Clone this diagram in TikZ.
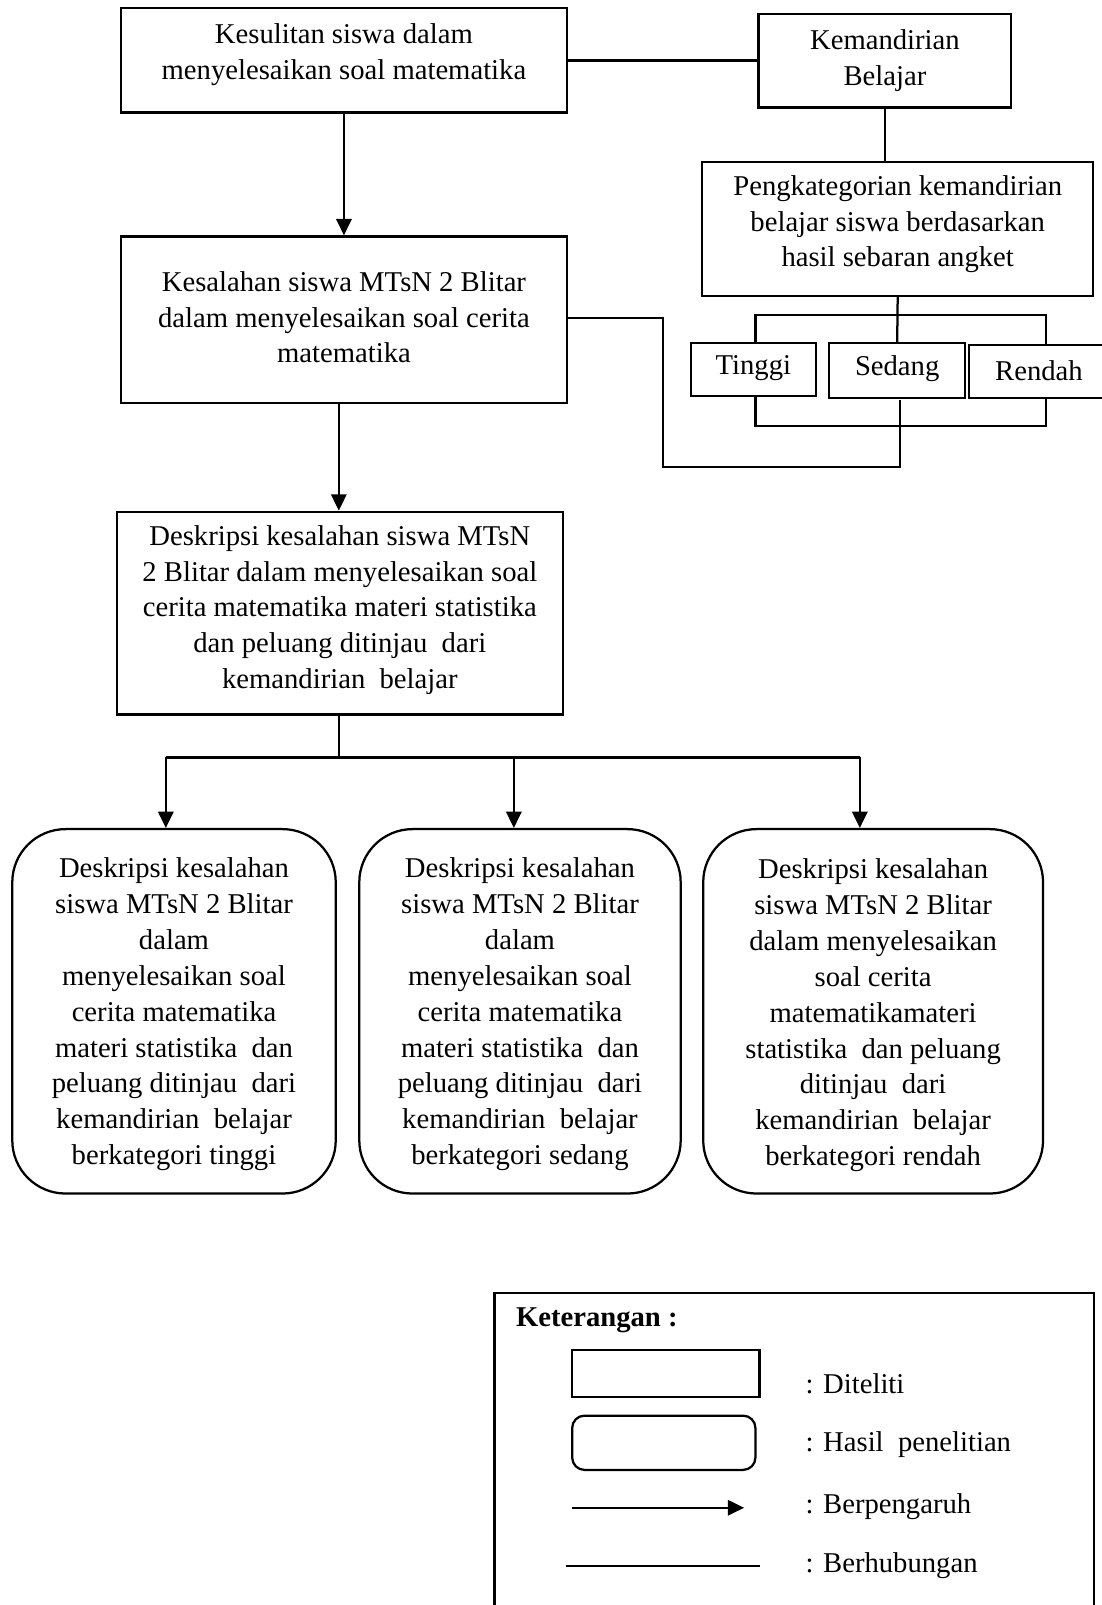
\documentclass[tikz,border=0pt]{standalone}
\usepackage{fontspec}
\setmainfont{Liberation Serif}
\usetikzlibrary{arrows.meta}
\begin{document}
\begin{tikzpicture}[x=1pt,y=-1pt, line width=2.2pt,
  box/.style={draw, rectangle, inner sep=0pt},
  rbox/.style={draw, rectangle, rounded corners=52pt, inner sep=0pt},
  txt/.style={align=center, inner sep=0pt, font=\fontsize{28}{35}\selectfont},
  ltxt/.style={anchor=west, inner sep=0pt, font=\fontsize{28}{35}\selectfont},
  arr/.style={-{Triangle[length=16pt,width=15pt]}}
]
\useasboundingbox (0,0) rectangle (1076,1568);
\fill[white] (0,0) rectangle (1076,1568);

% top left boxes
\node[box, minimum width=436pt, minimum height=102pt] (b1) at (336,59) {};
\node[txt] (b1t) at (336,53) {Kesulitan siswa dalam\\menyelesaikan soal matematika};

\node[box, minimum width=436pt, minimum height=163pt] (b2) at (336,312.5) {};
\node[txt] (b2t) at (336,310) {Kesalahan siswa MTsN 2 Blitar\\dalam menyelesaikan soal cerita\\matematika};

\node[box, minimum width=436pt, minimum height=198pt] (b3) at (332,599) {};
\node[txt] (b3t) at (332,596) {Deskripsi kesalahan siswa MTsN\\2 Blitar dalam menyelesaikan soal\\cerita matematika materi statistika\\dan peluang ditinjau\ \ dari\\kemandirian\ \ belajar};

% right boxes
\node[box, minimum width=247pt, minimum height=91pt] (kem) at (864.5,59.5) {};
\node[txt] (kemt) at (864.5,59) {Kemandirian\\Belajar};

\node[box, minimum width=382pt, minimum height=131pt] (peng) at (877,223.5) {};
\node[txt] (pengt) at (877,219) {Pengkategorian kemandirian\\belajar siswa berdasarkan\\hasil sebaran angket};

\node[box, minimum width=122pt, minimum height=52pt] (ting) at (736,361) {};
\node[txt] (tingt) at (736,360) {Tinggi};
\node[box, minimum width=133pt, minimum height=54pt] (sed) at (876.5,362) {};
\node[txt] (sedt) at (876.5,360) {Sedang};
\node[box, minimum width=150pt, minimum height=52pt] (ren) at (1022,363) {};
\node[txt] (rent) at (1015,362) {Rendah};

% connectors top
\draw (b1.east) -- (b1.east -| kem.west);
\draw (kem.south) -- (kem.south |- peng.north);
\draw (peng.south) -- (sed.north);
\coordinate (tt) at (738,308);
\coordinate (rt) at (1022,308);
\draw (tt |- ting.north) -- (tt) -- (rt) -- (rt |- ren.north);
\coordinate (tb) at (738,416);
\coordinate (rb) at (1022,416);
\draw (tb |- ting.south) -- (tb) -- (rb) -- (rb |- ren.south);
\coordinate (sb) at (879,391);
\coordinate (s1) at (879,456);
\coordinate (s2) at (648,456);
\coordinate (s3) at (648,311);
\draw (sb) -- (s1) -- (s2) -- (s3) -- (s3 -| b2.east);

\draw[arr] (b1.south) -- (b2.north);
\coordinate (a2) at (331,394);
\draw[arr] (a2) -- (a2 |- b3.north);

% bottom distribution
\coordinate (d0) at (331,698);
\coordinate (dm) at (331,740);
\coordinate (d1) at (162,740);
\coordinate (d2) at (502,740);
\coordinate (d3) at (840,740);
\draw (d0) -- (dm);
\draw (d1) -- (d3);

\node[rbox, minimum width=316pt, minimum height=356pt] (r1) at (170,988) {};
\node[txt] (r1t) at (170,991) {Deskripsi kesalahan\\siswa MTsN 2 Blitar\\dalam\\menyelesaikan soal\\cerita matematika\\materi statistika\ \ dan\\peluang ditinjau\ \ dari\\kemandirian\ \ belajar\\berkategori tinggi};

\node[rbox, minimum width=314pt, minimum height=356pt] (r2) at (508,988) {};
\node[txt] (r2t) at (508,991) {Deskripsi kesalahan\\siswa MTsN 2 Blitar\\dalam\\menyelesaikan soal\\cerita matematika\\materi statistika\ \ dan\\peluang ditinjau\ \ dari\\kemandirian\ \ belajar\\berkategori sedang};

\node[rbox, minimum width=332pt, minimum height=356pt] (r3) at (853,988) {};
\node[txt] (r3t) at (853,992) {Deskripsi kesalahan\\siswa MTsN 2 Blitar\\dalam menyelesaikan\\soal cerita\\matematikamateri\\statistika\ \ dan peluang\\ditinjau\ \ dari\\kemandirian\ \ belajar\\berkategori rendah};

\draw[arr] (d1) -- (d1 |- r1.north);
\draw[arr] (d2) -- (d2 |- r2.north);
\draw[arr] (d3) -- (d3 |- r3.north);

% legend
\node[box, minimum width=586pt, minimum height=330pt] (leg) at (776,1428) {};
\node[ltxt, font=\fontsize{28}{35}\selectfont\bfseries] (legt) at (503,1290) {Keterangan :};
\node[box, minimum width=183pt, minimum height=46pt] (l1) at (650.5,1342) {};
\node[ltxt] (l1t) at (786,1352) {: Diteliti};
\node[draw, rectangle, rounded corners=12pt, inner sep=0pt, minimum width=179pt, minimum height=53pt] (l2) at (648.5,1409.5) {};
\node[ltxt] (l2t) at (786,1411) {: Hasil\ \ penelitian};
\coordinate (la1) at (559,1473);
\coordinate (la2) at (727,1473);
\draw[arr] (la1) -- (la2);
\node[ltxt] (l3t) at (786,1472) {: Berpengaruh};
\coordinate (lb1) at (553,1530);
\coordinate (lb2) at (742,1530);
\draw (lb1) -- (lb2);
\node[ltxt] (l4t) at (786,1530) {: Berhubungan};
\end{tikzpicture}
\end{document}
